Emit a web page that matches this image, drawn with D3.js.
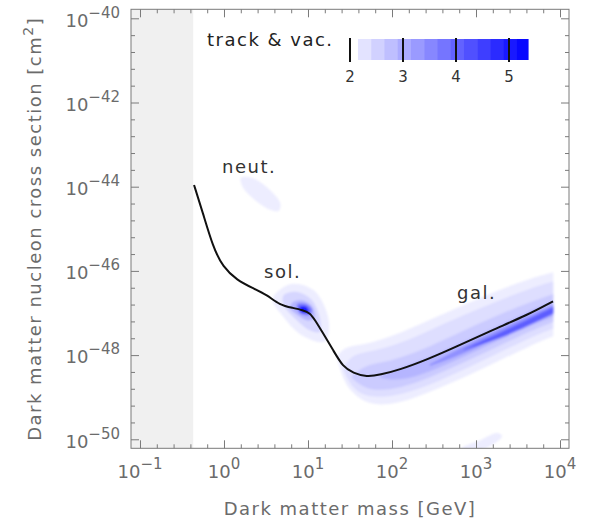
<!DOCTYPE html>
<html>
<head>
<meta charset="utf-8">
<script src="https://cdn.jsdelivr.net/npm/d3@7"></script>
<style>
body { margin: 0; background: #fff; }
svg { display: block; font-family: "DejaVu Sans", sans-serif; }
</style>
</head>
<body>
<div id="chart"></div>
<script>
// exclusion limit: mass [GeV], cross section [cm^2]
var limitMass = [0.44, 0.56, 0.74, 0.97, 1.43, 2.2, 3.25, 4.6, 6.6, 8.7, 10.6, 12.1, 15.1, 19.9, 26.1, 34.4, 50, 72, 124, 261, 646, 1590, 4050, 8260];
var limitSigma = [1.1e-44, 2.4e-45, 3.7e-46, 1.23e-46, 6.0e-47, 3.9e-47, 2.7e-47, 1.55e-47, 1.32e-47, 1.17e-47, 1.0e-47, 6.8e-48, 3.3e-48, 1.32e-48, 5.2e-49, 3.8e-49, 3.0e-49, 3.4e-49, 4.5e-49, 7.8e-49, 1.74e-48, 4.0e-48, 8.9e-48, 1.9e-47];

// masses below this are shaded grey
var minMass = 0.43;

// significance contours, points as [log10 mass, log10 sigma]
var neutContours = [
	{level: 2.15, pts: [[0.20,-43.79],[0.33,-43.79],[0.52,-44.03],[0.67,-44.39],[0.65,-44.58],[0.55,-44.55],[0.37,-44.32],[0.23,-44.03]]}
];
var solContours = [
	{level: 2.15, pts: [[0.58,-46.66],[0.80,-46.31],[1.08,-46.48],[1.25,-47.22],[1.20,-47.68],[0.92,-47.52],[0.69,-47.05]]},
	{level: 2.45, pts: [[0.71,-46.58],[0.87,-46.50],[1.04,-46.68],[1.14,-47.10],[1.14,-47.45],[1.02,-47.41],[0.83,-47.10],[0.71,-46.81]]},
	{level: 2.9, pts: [[0.81,-46.76],[0.92,-46.70],[1.04,-46.82],[1.08,-47.10],[1.01,-47.18],[0.87,-47.04],[0.79,-46.89]]},
	{level: 3.7, pts: [[0.87,-46.80],[0.97,-46.78],[1.05,-46.92],[1.02,-47.05],[0.90,-47.00]]},
	{level: 5.0, pts: [[0.90,-46.85],[0.98,-46.85],[1.01,-46.98],[0.92,-46.98]]}
];
var bottomContours = [
	{level: 2.15, pts: [[2.83,-50.21],[3.05,-50.02],[3.25,-49.85],[3.31,-49.92],[3.17,-50.16],[2.93,-50.30]]}
];

// galactic band: log10 mass, lower and upper log10 sigma per level
var galMass = [1.35, 1.42, 1.52, 1.68, 1.86, 2.10, 2.45, 2.85, 3.25, 3.64, 3.92];
var galBands = [
	{level: 2.15, from: 0,
		hi: [-48.02, -47.85, -47.78, -47.74, -47.64, -47.48, -47.16, -46.82, -46.47, -46.18, -46.03],
		lo: [-48.11, -48.60, -48.88, -49.13, -49.19, -49.14, -48.88, -48.54, -48.16, -47.78, -47.55]},
	{level: 2.35, from: 1,
		hi: [-48.30, -48.00, -47.93, -47.86, -47.72, -47.41, -47.05, -46.72, -46.42, -46.25],
		lo: [-48.35, -48.78, -48.98, -49.00, -48.95, -48.71, -48.35, -47.97, -47.59, -47.37]},
	{level: 2.6, from: 2,
		hi: [-48.50, -48.24, -48.19, -48.07, -47.80, -47.42, -47.06, -46.74, -46.55],
		lo: [-48.54, -48.80, -48.84, -48.78, -48.54, -48.18, -47.81, -47.43, -47.21]},
	{level: 2.9, from: 4,
		hi: [-48.50, -48.30, -48.06, -47.69, -47.33, -46.95, -46.72],
		lo: [-48.54, -48.62, -48.40, -48.04, -47.67, -47.31, -47.09]},
	{level: 3.4, from: 6,
		hi: [-48.22, -47.79, -47.42, -47.06, -46.81],
		lo: [-48.26, -47.97, -47.59, -47.22, -46.99]},
	{level: 4.1, from: 7,
		hi: [-47.86, -47.50, -47.13, -46.86],
		lo: [-47.88, -47.64, -47.28, -47.02]}
];

var regionLabels = [
	{text: "neut.", m: 0.95, s: -43.67},
	{text: "sol.", m: 3.0, s: -46.17},
	{text: "gal.", m: 594, s: -46.67}
];

var xTickExps = [-1, 0, 1, 2, 3, 4];
var yTickExps = [-40, -42, -44, -46, -48, -50];
var legendTicks = [2, 3, 4, 5];
var legendSteps = [2.15, 2.4, 2.65, 2.9, 3.15, 3.4, 3.65, 3.9, 4.15, 4.4, 4.65, 4.9, 5.15, 5.36];

var width = 590,
	height = 524,
	svg = d3.select("#chart").append("svg")
		.attr("width", width)
		.attr("height", height);

var pLeft = 131, pRight = 569, pTop = 9.3, pBottom = 448.3;

var x = d3.scaleLog().domain([Math.pow(10, -1.107), Math.pow(10, 4.107)]).range([pLeft, pRight]),
	y = d3.scaleLog().domain([Math.pow(10, -50.214), Math.pow(10, -39.786)]).range([pBottom, pTop]);

var color = d3.scaleLinear().domain([1.9, 5.36]).range(["#ffffff", "#0000ff"]);

function lx(v) { return x(Math.pow(10, v)); }
function ly(v) { return y(Math.pow(10, v)); }

svg.append("clipPath").attr("id", "plotclip")
	.append("rect")
	.attr("x", pLeft).attr("y", pTop)
	.attr("width", pRight - pLeft).attr("height", pBottom - pTop);

var plot = svg.append("g").attr("clip-path", "url(#plotclip)");

// grey excluded mass range
plot.append("rect")
	.attr("x", pLeft)
	.attr("y", pTop)
	.attr("width", x(minMass) - pLeft)
	.attr("height", pBottom - pTop)
	.attr("fill", "#f0f0f0");

var blob = d3.line()
	.x(function(d) { return lx(d[0]); })
	.y(function(d) { return ly(d[1]); })
	.curve(d3.curveCatmullRomClosed.alpha(0.5));

// slight blur to soften the contour steps
var defs = svg.append("defs");
defs.append("filter").attr("id", "soft")
	.append("feGaussianBlur").attr("stdDeviation", 1.2);

var shade = plot.append("g").attr("filter", "url(#soft)");

[neutContours, solContours, bottomContours].forEach(function(set) {
	shade.append("g").selectAll("path")
		.data(set)
		.enter().append("path")
			.attr("d", function(d) { return blob(d.pts); })
			.attr("fill", function(d) { return color(d.level); });
});

var band = d3.area()
	.x(function(d) { return lx(d.m); })
	.y0(function(d) { return ly(d.lo); })
	.y1(function(d) { return ly(d.hi); })
	.curve(d3.curveBasis);

shade.append("g").selectAll("path")
	.data(galBands)
	.enter().append("path")
		.attr("d", function(b) {
			return band(b.hi.map(function(h, i) {
				return {m: galMass[b.from + i], hi: h, lo: b.lo[i]};
			}));
		})
		.attr("fill", function(d) { return color(d.level); });

var limitLine = d3.line()
	.x(function(d, i) { return x(limitMass[i]); })
	.y(function(d) { return y(d); })
	.curve(d3.curveBasis);

plot.append("path")
	.attr("d", limitLine(limitSigma))
	.attr("fill", "none")
	.attr("stroke", "#111")
	.attr("stroke-width", 2);

// ticks on all four sides, pointing in
var xMajor = xTickExps.map(function(e) { return Math.pow(10, e); }),
	xMinor = d3.range(-1, 4.01, 0.2).filter(function(e) { return Math.abs(e - Math.round(e)) > 0.01; })
		.map(function(e) { return Math.pow(10, e); }),
	yMajor = yTickExps.map(function(e) { return Math.pow(10, e); }),
	yMinor = d3.range(-50, -39.99, 0.4).filter(function(e) { return Math.abs(e / 2 - Math.round(e / 2)) > 0.01; })
		.map(function(e) { return Math.pow(10, e); });

function ticks(axis, scale, vals, len, pos) {
	var g = svg.append("g")
		.attr("transform", pos)
		.call(axis(scale).tickValues(vals).tickSize(-len).tickSizeOuter(0).tickFormat(""));
	g.select(".domain").remove();
	g.selectAll("line").attr("stroke", "#7a7a7a");
}
ticks(d3.axisBottom, x, xMajor, 8, "translate(0," + pBottom + ")");
ticks(d3.axisBottom, x, xMinor, 4, "translate(0," + pBottom + ")");
ticks(d3.axisTop, x, xMajor, 8, "translate(0," + pTop + ")");
ticks(d3.axisTop, x, xMinor, 4, "translate(0," + pTop + ")");
ticks(d3.axisLeft, y, yMajor, 8, "translate(" + pLeft + ",0)");
ticks(d3.axisLeft, y, yMinor, 4, "translate(" + pLeft + ",0)");
ticks(d3.axisRight, y, yMajor, 8, "translate(" + pRight + ",0)");
ticks(d3.axisRight, y, yMinor, 4, "translate(" + pRight + ",0)");

svg.append("rect")
	.attr("x", pLeft).attr("y", pTop)
	.attr("width", pRight - pLeft).attr("height", pBottom - pTop)
	.attr("fill", "none")
	.attr("stroke", "#7a7a7a")
	.attr("stroke-width", 1);

// tick labels 10^n
function power(sel, e) {
	sel.append("tspan").text("10");
	sel.append("tspan")
		.attr("dy", -9)
		.attr("font-size", "15px")
		.text(String(e).replace("-", "\u2212"));
}

svg.append("g").selectAll("text")
	.data(xTickExps)
	.enter().append("text")
		.attr("x", function(d) { return lx(d); })
		.attr("y", 478)
		.attr("text-anchor", "middle")
		.attr("font-size", "18px")
		.attr("fill", "#6b6b6b")
		.each(function(d) { power(d3.select(this), d); });

svg.append("g").selectAll("text")
	.data(yTickExps)
	.enter().append("text")
		.attr("x", 120)
		.attr("y", function(d) { return ly(d) + 8.4; })
		.attr("text-anchor", "end")
		.attr("font-size", "18px")
		.attr("fill", "#6b6b6b")
		.each(function(d) { power(d3.select(this), d); });

svg.append("text")
	.attr("x", (pLeft + pRight) / 2)
	.attr("y", 515)
	.attr("text-anchor", "middle")
	.attr("font-size", "18px")
	.attr("letter-spacing", "1.5px")
	.attr("fill", "#6b6b6b")
	.text("Dark matter mass [GeV]");

var ylab = svg.append("text")
	.attr("transform", "translate(41," + ((pTop + pBottom) / 2) + ") rotate(-90)")
	.attr("text-anchor", "middle")
	.attr("font-size", "18px")
	.attr("letter-spacing", "1.5px")
	.attr("fill", "#6b6b6b");
ylab.append("tspan").text("Dark matter nucleon cross section [cm");
ylab.append("tspan").attr("dy", -8).attr("font-size", "14px").text("2");
ylab.append("tspan").attr("dy", 8).text("]");

svg.append("g").selectAll("text")
	.data(regionLabels)
	.enter().append("text")
		.attr("x", function(d) { return x(d.m); })
		.attr("y", function(d) { return ly(d.s); })
		.attr("font-size", "18px")
		.attr("letter-spacing", "1.5px")
		.attr("fill", "#333")
		.text(function(d) { return d.text; });

// colour legend
var lgX = d3.scaleLinear().domain([2, 5]).range([350, 509]);
var legend = svg.append("g");

legend.append("text")
	.attr("x", 207)
	.attr("y", 46)
	.attr("font-size", "18px")
	.attr("letter-spacing", "1.5px")
	.attr("fill", "#222")
	.text("track & vac.");

legend.selectAll("rect")
	.data(legendSteps.slice(0, -1))
	.enter().append("rect")
		.attr("x", function(d) { return lgX(d); })
		.attr("y", 39)
		.attr("width", function(d, i) { return lgX(legendSteps[i + 1]) - lgX(d) + 0.5; })
		.attr("height", 21)
		.attr("fill", function(d, i) { return color((d + legendSteps[i + 1]) / 2); });

legend.selectAll("line")
	.data(legendTicks)
	.enter().append("line")
		.attr("x1", function(d) { return lgX(d); })
		.attr("x2", function(d) { return lgX(d); })
		.attr("y1", 38)
		.attr("y2", 62)
		.attr("stroke", "#111")
		.attr("stroke-width", 2);

legend.selectAll(".lgtick")
	.data(legendTicks)
	.enter().append("text")
		.attr("class", "lgtick")
		.attr("x", function(d) { return lgX(d); })
		.attr("y", 82)
		.attr("text-anchor", "middle")
		.attr("font-size", "15px")
		.attr("fill", "#333")
		.text(function(d) { return d; });
</script>
</body>
</html>
